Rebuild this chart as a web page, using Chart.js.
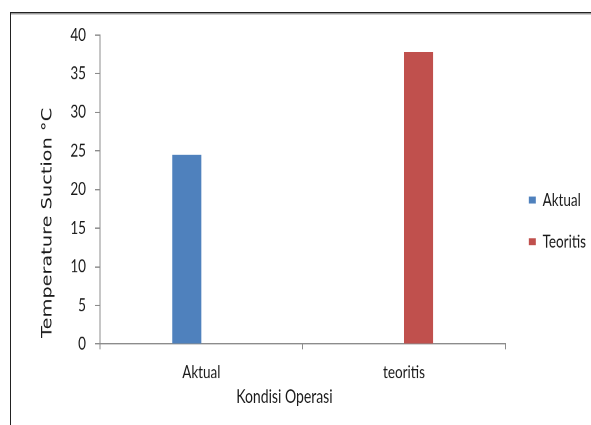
<!DOCTYPE html>
<html>
<head>
<meta charset="utf-8">
<script src="https://cdn.jsdelivr.net/npm/chart.js@4/dist/chart.umd.min.js"></script>
<style>
  html, body { margin: 0; padding: 0; background: #fff; }
  #page { position: relative; width: 591px; height: 425px; overflow: hidden; }
  #frame { position: absolute; left: 10px; top: 12px; width: 700px; height: 500px;
           border-top: 1px solid #222; border-left: 1px solid #222;
           box-shadow: inset 0 1px 0 #9a9a9a, inset 0 2px 0 #cfcfcf; }
  /* the chart is laid out at 327px tall and shown with a tall, narrow aspect */
  #plot { position: absolute; left: 0; top: 0; width: 591px; height: 327px;
          transform-origin: 0 0; transform: scaleY(1.29969); }
</style>
</head>
<body>
<div id="page">
  <div id="frame"></div>
  <div id="plot"><canvas id="c" width="591" height="327"></canvas></div>
</div>
<script>
// Operating conditions on the category axis
const categories = ['Aktual', 'teoritis'];
// Suction temperature (°C) for each series
const aktualValues = [24.5, null];
const teoritisValues = [null, 37.8];
const seriesNames = ['Aktual', 'Teoritis'];
const yTicks = [0, 5, 10, 15, 20, 25, 30, 35, 40];

const yTitle = 'Temperature Suction \u00B0C';
const xTitle = 'Kondisi Operasi';

const textColor = '#1a1a1a';
const labelFont = { family: "Lato, 'Open Sans', sans-serif", size: 13.5 };
const axisGray = '#8c8c8c';

// Axis titles drawn beside the plot area
const axisTitles = {
  id: 'axisTitles',
  afterDraw(chart) {
    const ctx = chart.ctx;
    const area = chart.chartArea;
    ctx.save();
    ctx.fillStyle = textColor;
    ctx.textAlign = 'center';
    ctx.textBaseline = 'middle';
    ctx.font = "14px 'DejaVu Sans', sans-serif";
    const w = ctx.measureText(yTitle).width;
    ctx.translate(48, 171.5);
    ctx.rotate(-Math.PI / 2);
    ctx.scale(177 / w, 1);
    ctx.fillText(yTitle, 0, 0);
    ctx.restore();

    ctx.save();
    ctx.fillStyle = textColor;
    ctx.textAlign = 'center';
    ctx.textBaseline = 'middle';
    ctx.font = "14px Lato, 'Open Sans', sans-serif";
    ctx.fillText(xTitle, area.left + (area.right - area.left) * 0.455, 305.5);
    ctx.restore();
  }
};

// Nudge the legend block beside the bars
const legendShift = {
  id: 'legendShift',
  afterLayout(chart) {
    const l = chart.legend;
    if (l) { l.top -= 7; l.bottom -= 7; l.left += 5; l.right += 5; }
  }
};

new Chart(document.getElementById('c'), {
  type: 'bar',
  data: {
    labels: categories,
    datasets: [
      { label: seriesNames[0], data: aktualValues, backgroundColor: '#4F81BD' },
      { label: seriesNames[1], data: teoritisValues, backgroundColor: '#C0504D' }
    ]
  },
  options: {
    responsive: false,
    animation: false,
    devicePixelRatio: 2,
    layout: { padding: { top: 26.9, left: 0, right: 0, bottom: 0 } },
    datasets: { bar: { categoryPercentage: 0.287, barPercentage: 1.0 } },
    plugins: {
      tooltip: { enabled: false },
      legend: {
        position: 'right',
        align: 'center',
        maxWidth: 86,
        labels: {
          boxWidth: 7,
          boxHeight: 5.4,
          padding: 18.5,
          color: textColor,
          font: labelFont
        }
      }
    },
    scales: {
      x: {
        grid: { display: true, drawOnChartArea: false, drawTicks: true, tickLength: 4, color: axisGray },
        border: { display: true, color: axisGray },
        ticks: { color: textColor, font: labelFont, padding: 10 },
        afterFit(scale) { scale.height = 62.3; }
      },
      y: {
        min: 0,
        max: 40,
        afterBuildTicks(scale) { scale.ticks = yTicks.map(v => ({ value: v })); },
        grid: { display: true, drawOnChartArea: false, drawTicks: true, tickLength: 5, color: axisGray },
        border: { display: true, color: axisGray },
        ticks: { color: textColor, font: labelFont, padding: 9 },
        afterFit(scale) { scale.width = 100; }
      }
    }
  },
  plugins: [axisTitles, legendShift]
});
</script>
</body>
</html>
